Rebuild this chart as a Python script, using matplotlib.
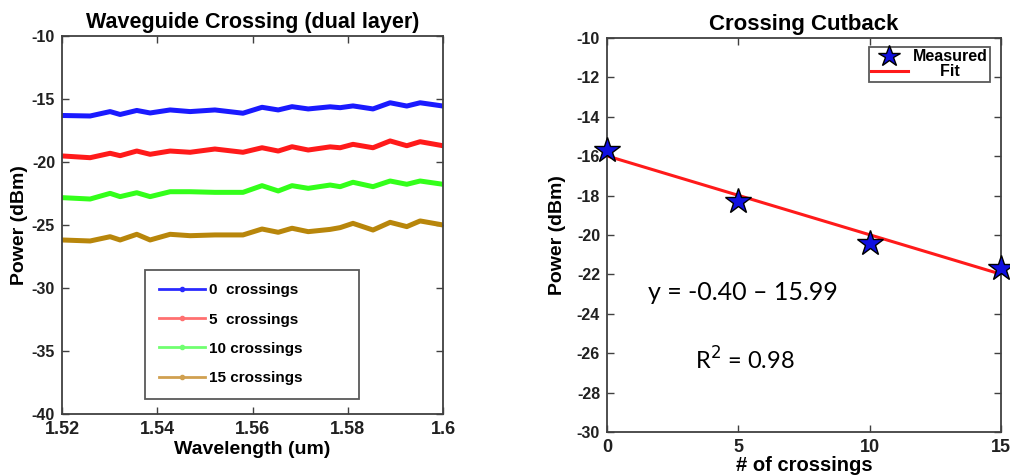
import matplotlib.pyplot as plt
from matplotlib.lines import Line2D

# dados
comprimento_onda = [1.520, 1.5259, 1.5301, 1.5322, 1.5357, 1.5385, 1.5427, 1.5469,
                    1.5521, 1.5580, 1.5620, 1.5654, 1.5683, 1.5717, 1.5763, 1.5784,
                    1.5811, 1.5853, 1.5889, 1.5924, 1.5952, 1.600]
p0 = [-16.31, -16.35, -16.00, -16.23, -15.91, -16.11, -15.87, -16.00,
      -15.87, -16.13, -15.66, -15.87, -15.61, -15.79, -15.62, -15.69,
      -15.55, -15.79, -15.30, -15.56, -15.30, -15.56]
p5 = [-19.52, -19.66, -19.31, -19.50, -19.13, -19.39, -19.13, -19.23,
      -18.97, -19.23, -18.87, -19.13, -18.79, -19.05, -18.80, -18.87,
      -18.60, -18.87, -18.33, -18.71, -18.39, -18.71]
p10 = [-22.83, -22.94, -22.49, -22.75, -22.44, -22.75, -22.36, -22.36,
       -22.41, -22.41, -21.88, -22.30, -21.88, -22.09, -21.83, -21.96,
       -21.61, -21.96, -21.51, -21.77, -21.51, -21.77]
p15 = [-26.19, -26.27, -25.93, -26.19, -25.74, -26.19, -25.74, -25.85,
       -25.79, -25.79, -25.32, -25.58, -25.26, -25.53, -25.35, -25.21,
       -24.87, -25.40, -24.79, -25.13, -24.68, -25.00]
series = [p0, p5, p10, p15]
rotulos = ['0  crossings', '5  crossings', '10 crossings', '15 crossings']
cores = ['#1a1aff', '#ff1a1a', '#33ff1a', '#b8860b']
cores_legenda = ['#2a2aff', '#ff7070', '#70ff70', '#d0a050']

n_cruzamentos = [0, 5, 10, 15]
medido = [-15.7, -18.3, -20.4, -21.7]
inclinacao = -0.40
intercepto = -15.99

plt.rcParams['font.family'] = ['Liberation Sans', 'DejaVu Sans']
plt.rcParams['axes.unicode_minus'] = False
fig = plt.figure(figsize=(10.1, 4.76), dpi=100)


def estilo_eixo(ax):
    for s in ax.spines.values():
        s.set_color('#404040')
        s.set_linewidth(1.3)
    ax.tick_params(direction='in', top=True, right=True, length=5,
                   width=1, color='#404040', labelsize=11.5, pad=5)
    ax.tick_params(axis='x', labelsize=13, pad=5)
    for t in ax.get_xticklabels() + ax.get_yticklabels():
        t.set_fontweight('bold')
        t.set_color('#202020')


# 1. Espectros
ax1 = fig.add_axes([0.0614, 0.1303, 0.3772, 0.7941])
for y, c in zip(series, cores):
    ax1.plot(comprimento_onda, y, color=c, linewidth=3.6, solid_joinstyle='round')
ax1.set_xlim(1.52, 1.6)
ax1.set_ylim(-40, -10)
ax1.set_xticks([1.52, 1.54, 1.56, 1.58, 1.6])
ax1.set_xticklabels(['1.52', '1.54', '1.56', '1.58', '1.6'])
ax1.set_yticks([-40, -35, -30, -25, -20, -15, -10])
estilo_eixo(ax1)
ax1.set_title('Waveguide Crossing (dual layer)', fontsize=15.5, fontweight='bold', pad=6)
ax1.set_xlabel('Wavelength (um)', fontsize=14, fontweight='bold', labelpad=2)
ax1.set_ylabel('Power (dBm)', fontsize=14, fontweight='bold', labelpad=3)
handles = [Line2D([], [], color=c, linewidth=2, marker='.', markersize=6)
           for c in cores_legenda]
leg = ax1.legend(handles, [r + ' ' * 10 for r in rotulos], loc='lower left',
                 bbox_to_anchor=(0.218, 0.04), borderaxespad=0,
                 prop={'weight': 'bold', 'size': 11}, fancybox=False,
                 edgecolor='#303030', handlelength=3.0, labelspacing=1.0,
                 borderpad=0.9, handletextpad=0.3)
leg.get_frame().set_linewidth(1.3)

# 2. Cutback
ax2 = fig.add_axes([0.601, 0.0924, 0.390, 0.828])
x_fit = [n_cruzamentos[0], n_cruzamentos[-1]]
y_fit = [intercepto + inclinacao * x for x in x_fit]
ax2.plot(n_cruzamentos, medido, linestyle='none', marker='*', markersize=19,
         markerfacecolor='#1010e0', markeredgecolor='black', markeredgewidth=1,
         clip_on=False, zorder=3, label='Measured')
ax2.plot(x_fit, y_fit, color='#ff1a1a', linewidth=2.2, label='      Fit', zorder=2)
ax2.set_xlim(0, 15)
ax2.set_ylim(-30, -10)
ax2.set_xticks([0, 5, 10, 15])
ax2.set_yticks(list(range(-30, -9, 2)))
estilo_eixo(ax2)
ax2.set_title('Crossing Cutback', fontsize=16, fontweight='bold', pad=6)
ax2.set_xlabel('# of crossings', fontsize=14.5, fontweight='bold', labelpad=0)
ax2.set_ylabel('Power (dBm)', fontsize=14, fontweight='bold', labelpad=8)
leg2 = ax2.legend(loc='upper right', bbox_to_anchor=(0.972, 0.977), borderaxespad=0,
                  prop={'weight': 'bold', 'size': 11.5}, fancybox=False,
                  edgecolor='#303030', handlelength=2.3, labelspacing=0.0,
                  borderpad=0.15, handletextpad=0.3, markerscale=0.85)
leg2.get_frame().set_linewidth(1.3)
ax2.text(1.55, -22.9, 'y = -0.40 – 15.99', fontsize=18, family=['Lato', 'DejaVu Sans'],
         va='center', ha='left')
ax2.text(3.35, -26.35, 'R$^2$ = 0.98', fontsize=17, family=['Lato', 'DejaVu Sans'],
         va='center', ha='left')

plt.savefig('out.png', dpi=100)
plt.close()
